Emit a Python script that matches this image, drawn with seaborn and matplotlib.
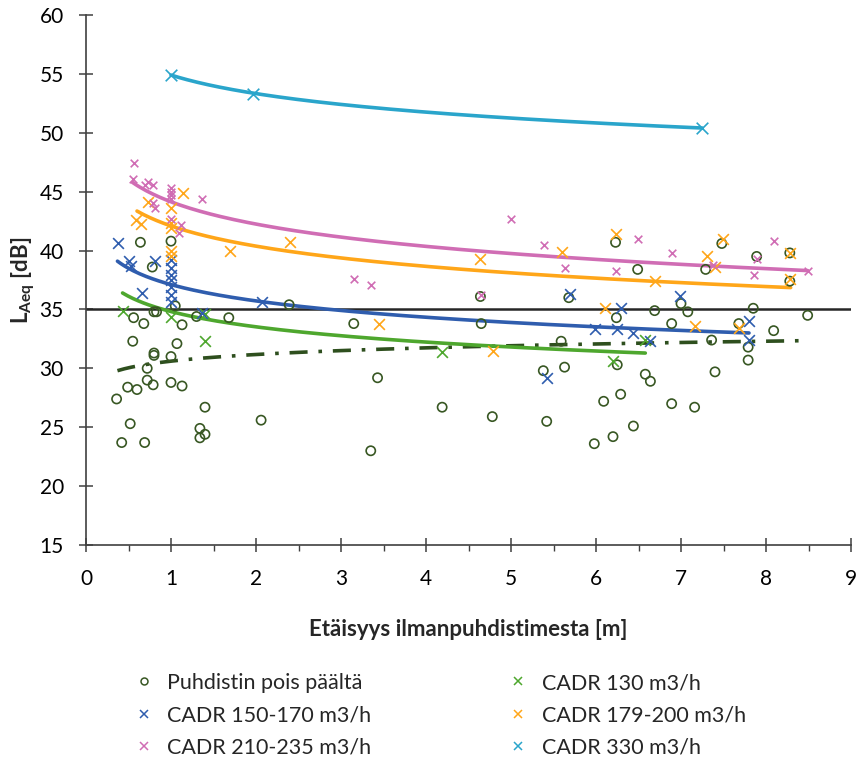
import numpy as np
import pandas as pd
import matplotlib
matplotlib.use("Agg")
import matplotlib.pyplot as plt
from matplotlib.ticker import MultipleLocator
import seaborn as sns

sns.set_style("white")
plt.rcParams["font.family"] = ["Lato", "DejaVu Sans"]
plt.rcParams["mathtext.fontset"] = "custom"
plt.rcParams["mathtext.rm"] = "Lato"
plt.rcParams["mathtext.bf"] = "Lato:bold"

# Measurements: distance from the purifier [m] and sound level LAeq [dB]
off_x = [0.36, 0.42, 0.69, 0.52, 0.49, 0.60, 0.72, 0.79, 0.72, 0.80, 0.80, 1.00, 1.00, 1.13,
         0.55, 1.07, 0.56, 0.68, 1.13, 0.80, 0.83, 1.05, 1.30, 1.68, 1.40, 1.34, 1.40, 1.34,
         0.64, 1.00, 0.78, 2.39, 2.06, 3.15, 3.43, 3.35, 4.19, 4.64, 4.65, 4.78, 5.38, 5.63,
         5.42, 5.59, 5.68, 6.23, 6.49, 6.24, 6.69, 6.89, 7.00, 7.08, 7.29, 7.48, 7.36, 7.68,
         7.85, 7.79, 7.79, 7.89, 8.28, 8.28, 8.09, 8.49, 6.25, 6.58, 6.64, 7.40, 6.09, 6.29,
         6.89, 7.16, 6.44, 6.20, 5.98]
off_y = [27.4, 23.7, 23.7, 25.3, 28.4, 28.2, 29.0, 28.6, 30.0, 31.3, 31.1, 31.0, 28.8, 28.5,
         32.3, 32.1, 34.3, 33.8, 33.7, 34.8, 34.8, 35.3, 34.4, 34.3, 26.7, 24.9, 24.4, 24.1,
         40.7, 40.8, 38.6, 35.4, 25.6, 33.8, 29.2, 23.0, 26.7, 36.1, 33.8, 25.9, 29.8, 30.1,
         25.5, 32.3, 36.0, 40.7, 38.4, 34.3, 34.9, 33.8, 35.5, 34.8, 38.4, 40.6, 32.4, 33.8,
         35.1, 31.8, 30.7, 39.5, 39.8, 37.4, 33.2, 34.5, 30.3, 29.5, 28.9, 29.7, 27.2, 27.8,
         27.0, 26.7, 25.1, 24.2, 23.6]

c130_x = [0.43, 1.00, 1.40, 1.40, 4.19, 6.20, 6.58]
c130_y = [34.9, 34.4, 32.3, 34.6, 31.4, 30.6, 32.4]

c150_x = [0.38, 0.50, 0.53, 0.81, 0.66, 1.00, 1.00, 1.00, 1.00, 1.00, 1.00, 1.00, 1.36, 2.07,
          5.69, 5.42, 6.29, 5.99, 6.25, 6.44, 6.64, 6.99, 7.80, 7.80]
c150_y = [40.6, 39.1, 38.7, 39.1, 36.4, 39.2, 38.5, 37.9, 37.5, 36.9, 36.2, 35.6, 34.7, 35.6,
          36.3, 29.2, 35.1, 33.3, 33.3, 33.0, 32.3, 36.1, 34.0, 32.4]

c180_x = [0.73, 0.59, 0.65, 1.14, 1.00, 1.00, 1.00, 1.00, 1.00, 1.69, 2.40, 3.45, 4.64, 4.79,
          5.60, 6.23, 6.10, 6.69, 7.16, 7.31, 7.40, 7.49, 7.68, 8.28, 8.28]
c180_y = [44.1, 42.6, 42.25, 44.85, 43.6, 42.3, 41.9, 40.0, 39.5, 40.0, 40.7, 33.8, 39.3, 31.5,
          39.9, 41.4, 35.1, 37.4, 33.6, 39.5, 38.6, 41.0, 33.4, 39.8, 37.55]

c210_x = [0.56, 0.55, 0.69, 0.73, 0.79, 0.79, 0.81, 1.00, 1.00, 1.00, 1.00, 1.00, 1.09, 1.12,
          1.37, 3.15, 3.35, 4.65, 5.00, 5.39, 5.64, 6.49, 6.24, 6.89, 7.38, 7.86, 7.89, 8.09, 8.49]
c210_y = [47.4, 46.1, 45.6, 45.8, 45.6, 44.05, 43.6, 45.3, 45.0, 44.7, 44.4, 42.7, 41.5, 42.2,
          44.4, 37.6, 37.1, 36.2, 42.65, 40.5, 38.5, 41.0, 38.3, 39.8, 38.8, 37.9, 39.3, 40.8, 38.3]

c330_x = [1.00, 1.97, 7.25]
c330_y = [54.9, 53.3, 50.4]

labels = ["Puhdistin pois päältä", "CADR 130 m3/h", "CADR 150-170 m3/h",
          "CADR 179-200 m3/h", "CADR 210-235 m3/h", "CADR 330 m3/h"]

# Logarithmic trend lines y = a*ln(x) + b, with the x range each one spans
trend_a = [0.815, -1.87, -2.00, -2.475, -2.73, -2.27]
trend_b = [30.61, 34.82, 37.11, 42.09, 44.14, 54.90]
trend_x0 = [0.37, 0.43, 0.37, 0.60, 0.545, 1.00]
trend_x1 = [8.44, 6.58, 7.80, 8.29, 8.49, 7.25]

limit_db = 35

colors = ["#385723", "#4EA72E", "#2F5DAE", "#FFA619", "#D06DB4", "#2AA5CB"]
line_colors = ["#2E4F1E", "#4EA72E", "#2F5DAE", "#FFA619", "#D06DB4", "#2AA5CB"]

series = [(off_x, off_y), (c130_x, c130_y), (c150_x, c150_y),
          (c180_x, c180_y), (c210_x, c210_y), (c330_x, c330_y)]

fig = plt.figure(figsize=(8.56, 7.62), dpi=100)
ax = fig.add_axes([86 / 856, 1 - 545 / 762, (851 - 86) / 856, (545 - 15) / 762])

ax.axhline(limit_db, color="#262626", lw=1.8, zorder=1)

# trend curves
for i in range(len(series)):
    xs = np.linspace(trend_x0[i], trend_x1[i], 200)
    df_t = pd.DataFrame({"x": xs, "y": trend_a[i] * np.log(xs) + trend_b[i]})
    sns.lineplot(data=df_t, x="x", y="y", ax=ax, color=line_colors[i], lw=2.6, zorder=2)
    if i == 0:
        ax.lines[-1].set_dashes((5, 3, 1, 3))

handles = []
for i, (xs, ys) in enumerate(series):
    df = pd.DataFrame({"x": xs, "y": ys})
    if i == 0:
        sns.scatterplot(data=df, x="x", y="y", ax=ax, marker="o", s=44,
                        facecolor="none", edgecolor=colors[i], linewidth=1.2, zorder=3)
        h = plt.Line2D([], [], ls="none", marker="o", ms=5, mfc="none",
                       mec=colors[i], mew=1.1)
    else:
        size = 30 if i == 4 else (70 if i == 5 else 60)
        sns.scatterplot(data=df, x="x", y="y", ax=ax, marker="x", s=size,
                        color=colors[i], linewidth=1.2, zorder=3)
        h = plt.Line2D([], [], ls="none", marker="x", ms=6, mec=colors[i], mew=1.1)
    handles.append(h)

ax.set_xlim(0, 9)
ax.set_ylim(15, 60)
ax.xaxis.set_major_locator(MultipleLocator(1))
ax.xaxis.set_minor_locator(MultipleLocator(0.5))
ax.yaxis.set_major_locator(MultipleLocator(5))

sns.despine(ax=ax)
for side in ("left", "bottom"):
    ax.spines[side].set_color("#404040")
    ax.spines[side].set_linewidth(1.2)
ax.tick_params(axis="y", which="major", direction="inout", length=10, width=1.1,
               color="#404040", labelsize=15, labelcolor="black", pad=11, left=True)
ax.tick_params(axis="x", which="major", direction="inout", length=10, width=1.1,
               color="#404040", labelsize=15, labelcolor="black", pad=12, bottom=True)
ax.tick_params(axis="x", which="minor", direction="out", length=4, width=1.0,
               color="#404040", bottom=True)

ax.set_xlabel("Etäisyys ilmanpuhdistimesta [m]", fontsize=16, fontweight="bold", labelpad=22)
ax.set_ylabel(r"L$_{\mathbf{Aeq}}$ [dB]", fontsize=16, fontweight="bold", labelpad=2)

order = [0, 2, 4, 1, 3, 5]
fig.legend([handles[k] for k in order], [labels[k] for k in order],
           loc="upper left", bbox_to_anchor=(133 / 856, 1 - 673 / 762), ncol=2,
           frameon=False, fontsize=15.5, handletextpad=0.6, handlelength=1.0,
           columnspacing=6.3, labelspacing=0.58, borderaxespad=0, borderpad=0)

fig.savefig("out.png", dpi=100)
